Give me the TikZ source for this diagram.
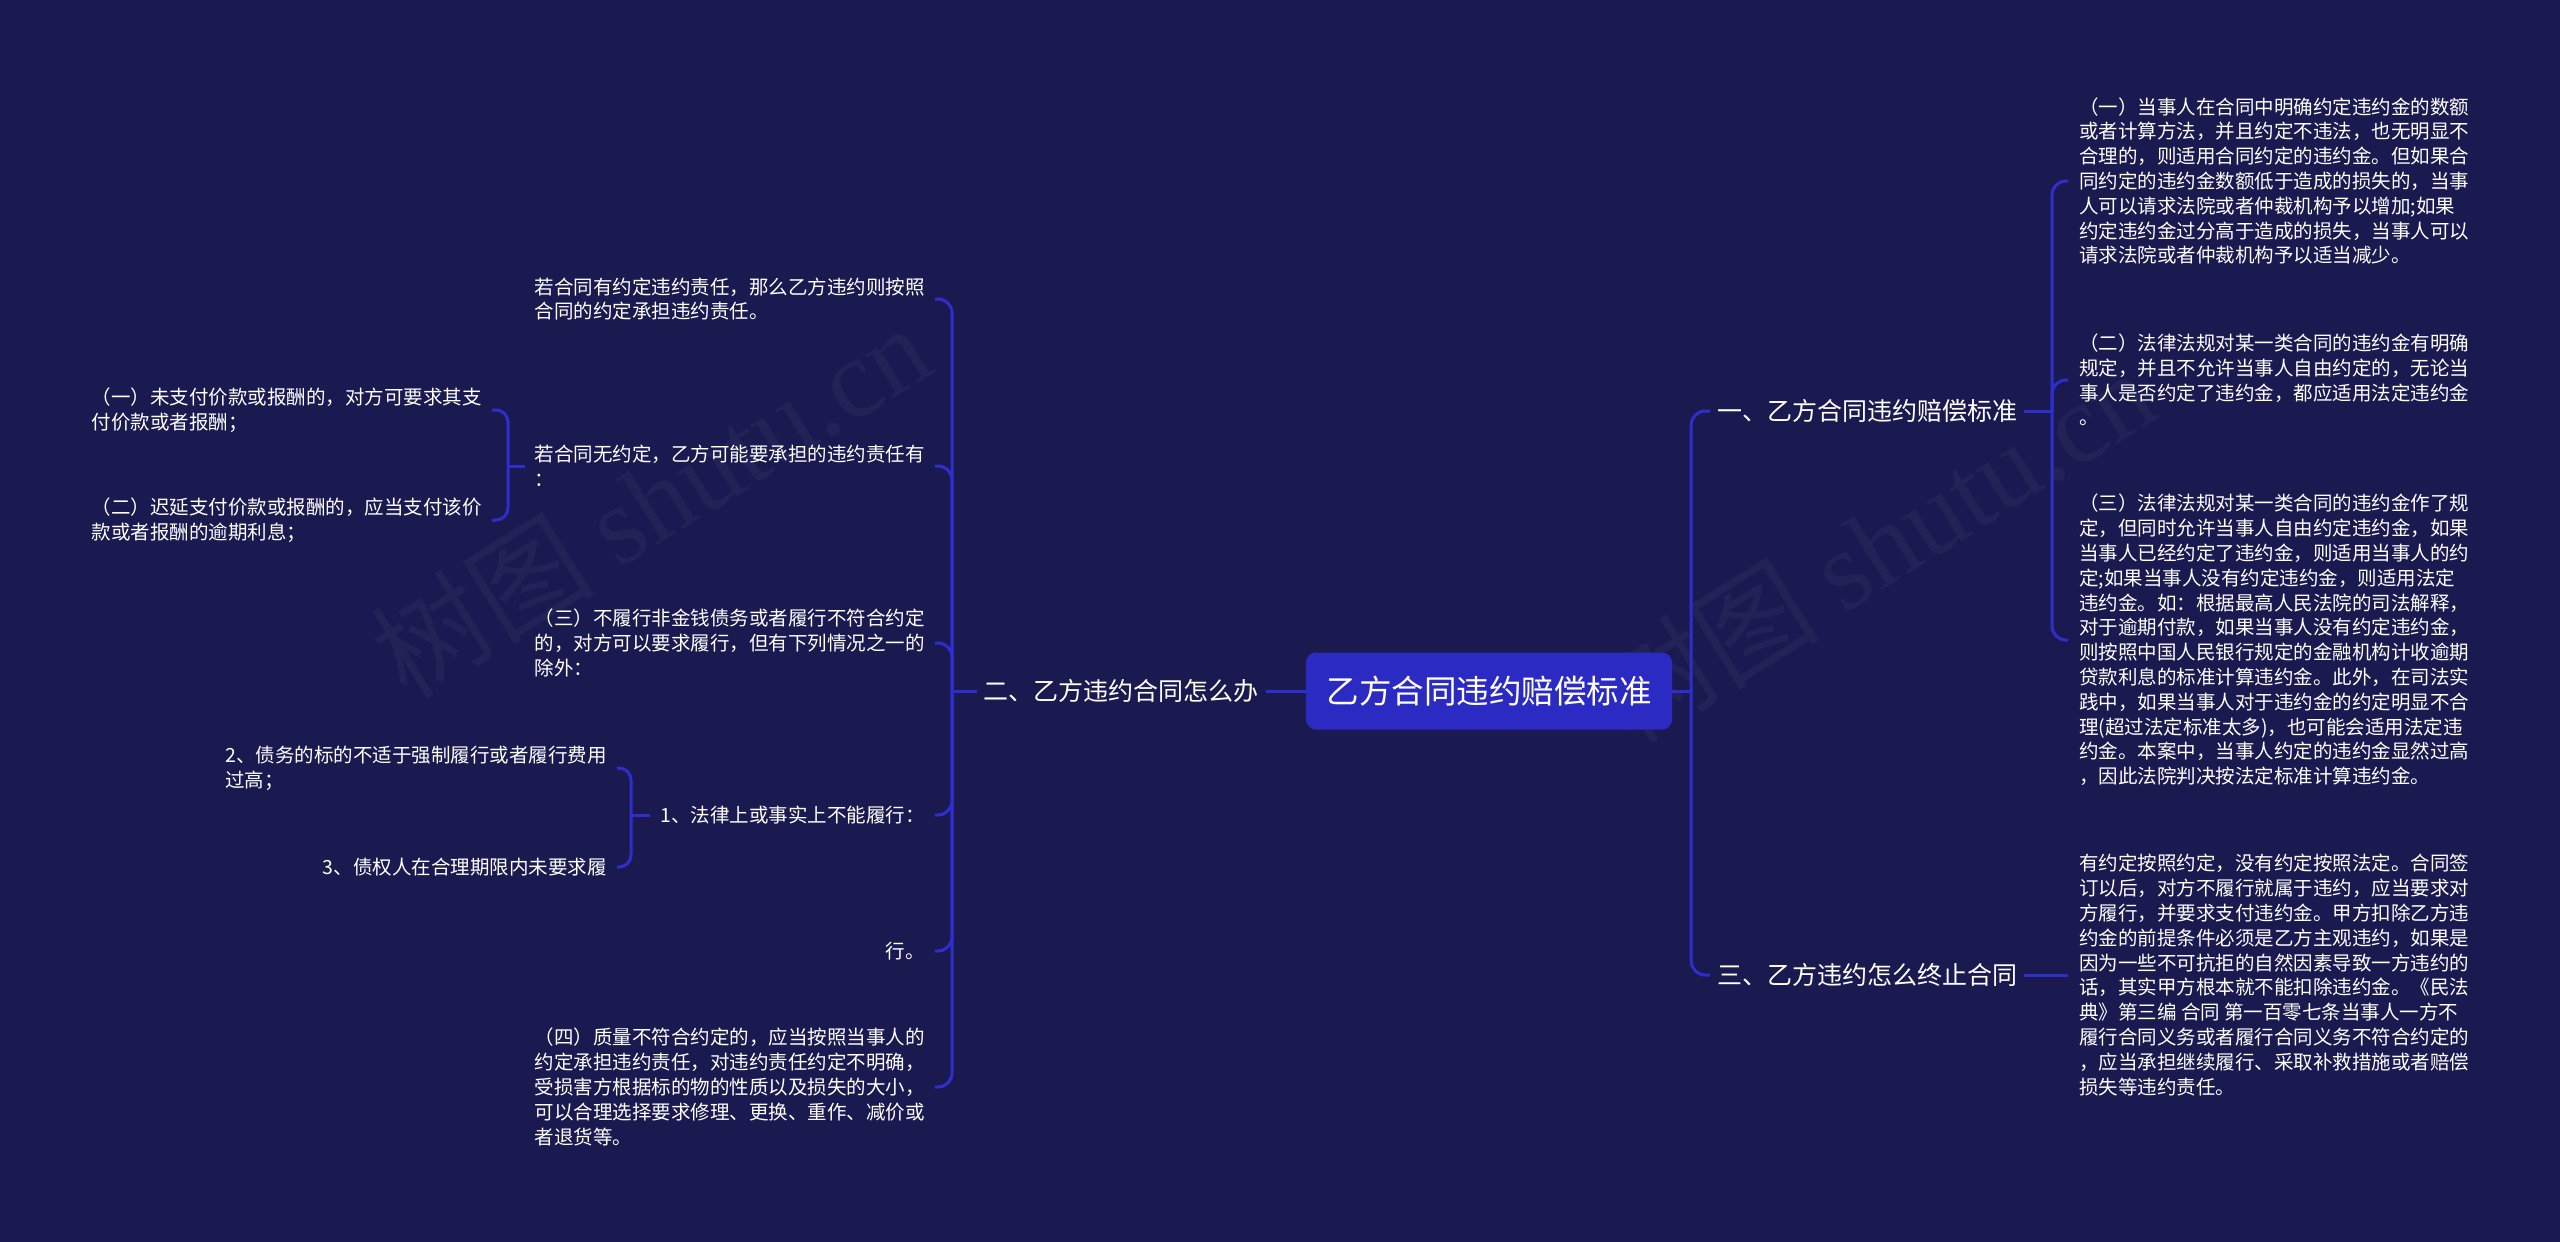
\documentclass[tikz,border=0pt]{standalone}
\usepackage{fontspec}
\setmainfont{Noto Sans CJK SC}
\newfontfamily\wmlatin{Liberation Serif}
\usetikzlibrary{calc}
\definecolor{bgc}{HTML}{1A1A50}
\definecolor{rootc}{HTML}{2B2BC4}
\definecolor{linec}{HTML}{2E2ECC}
\tikzset{
  conn/.style={draw=linec, line width=3pt, rounded corners=14pt},
  leaf/.style={text=white, font=\fontsize{19.5}{24.8}\selectfont, align=left, inner xsep=10pt, inner ysep=4pt},
  rleaf/.style={leaf, inner xsep=11pt, anchor=west},
  lleaf/.style={leaf, anchor=east},
  branch/.style={text=white, font=\fontsize{25}{30}\selectfont, inner xsep=7pt, inner ysep=4pt},
  rootbox/.style={fill=rootc, rounded corners=10pt, text=white, font=\fontsize{32.5}{38}\selectfont, minimum width=366pt, minimum height=77pt},
  wm/.style={text=white, text opacity=0.035, rotate=32, font=\fontsize{112}{120}\selectfont}
}
\begin{document}
\begin{tikzpicture}[x=1pt,y=-1pt]
\fill[bgc] (0,0) rectangle (2560,1242);
\useasboundingbox (0,0) rectangle (2560,1242);

% watermarks
\node[wm] (wm1) at (650,500) {树图 {\wmlatin shutu.cn}};
\node[wm] (wm2) at (1875,545) {树图 {\wmlatin shutu.cn}};

% root
\node[rootbox] (root) at (1489,691) {乙方合同违约赔偿标准};

% main branches
\node[branch, anchor=west] (n1) at (1710,411) {一、乙方合同违约赔偿标准};
\node[branch, anchor=west] (n3) at (1710,975) {三、乙方违约怎么终止合同};
\node[branch, anchor=east] (n2) at (1266,691) {二、乙方违约合同怎么办};

% right leaves
\node[rleaf] (r1) at (2068,181) {（一）当事人在合同中明确约定违约金的数额\\
或者计算方法，并且约定不违法，也无明显不\\
合理的，则适用合同约定的违约金。但如果合\\
同约定的违约金数额低于造成的损失的，当事\\
人可以请求法院或者仲裁机构予以增加;如果\\
约定违约金过分高于造成的损失，当事人可以\\
请求法院或者仲裁机构予以适当减少。};
\node[rleaf] (r2) at (2068,380) {（二）法律法规对某一类合同的违约金有明确\\
规定，并且不允许当事人自由约定的，无论当\\
事人是否约定了违约金，都应适用法定违约金\\
。};
\node[rleaf] (r3) at (2068,640) {（三）法律法规对某一类合同的违约金作了规\\
定，但同时允许当事人自由约定违约金，如果\\
当事人已经约定了违约金，则适用当事人的约\\
定;如果当事人没有约定违约金，则适用法定\\
违约金。如：根据最高人民法院的司法解释，\\
对于逾期付款，如果当事人没有约定违约金，\\
则按照中国人民银行规定的金融机构计收逾期\\
贷款利息的标准计算违约金。此外，在司法实\\
践中，如果当事人对于违约金的约定明显不合\\
理(超过法定标准太多)，也可能会适用法定违\\
约金。本案中，当事人约定的违约金显然过高\\
，因此法院判决按法定标准计算违约金。};
\node[rleaf] (r4) at (2068,975) {有约定按照约定，没有约定按照法定。合同签\\
订以后，对方不履行就属于违约，应当要求对\\
方履行，并要求支付违约金。甲方扣除乙方违\\
约金的前提条件必须是乙方主观违约，如果是\\
因为一些不可抗拒的自然因素导致一方违约的\\
话，其实甲方根本就不能扣除违约金。《民法\\
典》第三编 合同 第一百零七条当事人一方不\\
履行合同义务或者履行合同义务不符合约定的\\
，应当承担继续履行、采取补救措施或者赔偿\\
损失等违约责任。};

% left leaves
\node[lleaf] (la) at (935,299) {若合同有约定违约责任，那么乙方违约则按照\\
合同的约定承担违约责任。};
\node[lleaf] (lb) at (935,466) {若合同无约定，乙方可能要承担的违约责任有\\
：};
\node[lleaf] (lc) at (935,643) {（三）不履行非金钱债务或者履行不符合约定\\
的，对方可以要求履行，但有下列情况之一的\\
除外：};
\node[lleaf] (ld) at (935,815) {1、法律上或事实上不能履行：};
\node[lleaf] (le) at (935,951) {行。};
\node[lleaf] (lf) at (935,1087) {（四）质量不符合约定的，应当按照当事人的\\
约定承担违约责任，对违约责任约定不明确，\\
受损害方根据标的物的性质以及损失的大小，\\
可以合理选择要求修理、更换、重作、减价或\\
者退货等。};

\node[lleaf] (b1) at (492,410) {（一）未支付价款或报酬的，对方可要求其支\\
付价款或者报酬；};
\node[lleaf] (b2) at (492,520) {（二）迟延支付价款或报酬的，应当支付该价\\
款或者报酬的逾期利息；};

\node[lleaf] (d1) at (617,768) {2、债务的标的不适于强制履行或者履行费用\\
过高；};
\node[lleaf] (d2) at (617,867) {3、债权人在合理期限内未要求履};

% connectors right
\coordinate (jR) at ($(root.east)+(19,0)$);
\draw[conn] (root.east) -- (jR);
\draw[conn] (jR) |- (n1.west);
\draw[conn] (jR) |- (n3.west);

\coordinate (j1) at ($(r1.west)+(-16,0)$);
\coordinate (j1m) at (j1 |- n1.east);
\draw[conn] (n1.east) -- (j1m);
\draw[conn] (j1m) |- (r1.west);
\draw[conn] (j1m) |- (r2.west);
\draw[conn] (j1m) |- (r3.west);
\draw[conn] (n3.east) -- (r4.west);

% connectors left
\draw[conn] (root.west) -- (n2.east);
\coordinate (jL) at ($(la.east)+(17,0)$);
\coordinate (jLm) at (jL |- n2.west);
\draw[conn] (n2.west) -- (jLm);
\foreach \c in {la,lb,lc,ld,le,lf} { \draw[conn] (jLm) |- (\c.east); }

\coordinate (jb) at ($(b1.east)+(16,0)$);
\coordinate (jbm) at (jb |- lb.west);
\draw[conn] (lb.west) -- (jbm);
\draw[conn, rounded corners=12pt] (jbm) |- (b1.east);
\draw[conn, rounded corners=12pt] (jbm) |- (b2.east);

\coordinate (jd) at ($(d1.east)+(14,0)$);
\coordinate (jdm) at (jd |- ld.west);
\draw[conn] (ld.west) -- (jdm);
\draw[conn, rounded corners=12pt] (jdm) |- (d1.east);
\draw[conn, rounded corners=12pt] (jdm) |- (d2.east);
\end{tikzpicture}
\end{document}
